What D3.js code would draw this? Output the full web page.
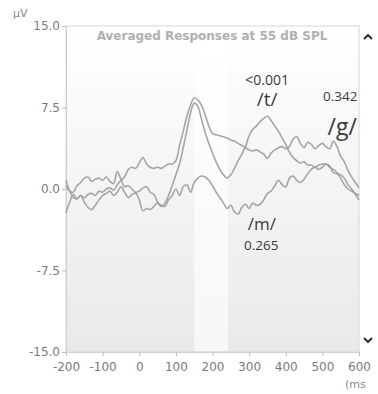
<!DOCTYPE html>
<html>
<head>
<meta charset="utf-8">
<script src="https://cdn.jsdelivr.net/npm/d3@7"></script>
<style>
  html, body { margin: 0; padding: 0; background: #fff; }
  svg { display: block; }
  text { font-family: "DejaVu Sans", sans-serif; }
</style>
</head>
<body>
<svg id="chart" width="378" height="394"></svg>
<script>
const times = d3.range(-200, 601, 10);
const seriesG = [0.8,-0.2,-0.8,-0.9,-0.6,-0.8,-0.5,-0.4,-0.6,-0.2,-0.3,0.0,0.1,-0.1,0.4,0.8,1.1,1.8,2.0,1.9,
  2.4,2.9,2.3,2.0,1.9,2.0,1.9,2.1,2.3,2.3,2.6,4.0,5.3,6.7,7.7,8.4,8.2,7.7,6.8,5.8,
  5.1,5.0,4.9,4.8,4.7,4.5,4.4,4.2,4.0,3.8,3.6,3.5,3.6,3.4,3.2,2.8,3.3,3.6,3.8,3.9,
  3.7,3.9,4.6,4.8,4.2,3.8,4.3,4.1,3.7,4.0,4.2,3.9,3.7,4.4,3.9,3.0,2.5,1.7,1.1,0.6,0.1];
const seriesT = [0.3,-0.2,-0.3,0.3,0.6,1.0,1.1,0.7,0.9,1.0,0.8,1.1,0.7,0.5,1.6,0.9,0.2,0.3,0.0,-0.3,
  -0.2,0.1,0.2,-0.3,-0.5,-1.2,-1.6,-1.3,-0.6,0.3,1.3,2.3,3.8,5.4,7.0,7.9,7.6,6.4,5.2,4.2,
  3.3,2.5,1.8,1.3,1.0,1.3,1.9,2.6,3.2,3.9,4.9,5.5,5.8,6.2,6.5,6.7,6.3,5.8,5.3,4.7,
  4.1,3.4,2.9,2.6,2.4,2.5,2.2,2.2,2.0,2.2,2.3,2.3,2.0,1.8,1.5,1.0,0.4,0.0,-0.2,-0.4,-0.6];
const seriesM = [-2.2,-1.2,-0.5,-0.9,-0.6,-1.2,-1.7,-1.9,-1.5,-1.0,-0.6,-0.4,-0.2,-0.6,-0.3,0.2,-0.3,-0.8,-0.5,-0.4,
  -1.0,-2.0,-1.8,-1.9,-1.6,-1.3,-1.5,-1.6,-1.0,-0.6,0.0,-0.6,0.2,0.4,-0.3,0.6,1.0,1.2,1.1,0.8,
  0.3,-0.3,-0.8,-1.3,-1.8,-1.5,-2.1,-2.3,-1.7,-1.4,-1.8,-1.3,-1.5,-1.4,-1.0,-0.4,-0.2,0.3,0.8,0.4,
  0.2,1.0,1.2,0.8,0.6,0.9,1.4,1.8,2.0,1.8,2.0,2.3,2.1,1.5,1.4,1.3,1.0,0.4,0.0,-0.5,-1.0];
const xTicks = [-200,-100,0,100,200,300,400,500,600];
const yTicks = [-15,-7.5,0,7.5,15];
const bandRange = [150, 243];
const title = "Averaged Responses at 55 dB SPL";
const annotations = [
  {t: 349, v: 9.6, text: "<0.001", size: 14},
  {t: 349, v: 7.6, text: "/t/", size: 19},
  {t: 549, v: 8.1, text: "0.342", size: 13.5},
  {t: 554, v: 5.0, text: "/g/", size: 23},
  {t: 335, v: -3.8, text: "/m/", size: 17},
  {t: 333, v: -5.6, text: "0.265", size: 13.5}
];

const svg = d3.select("#chart");
const x = d3.scaleLinear().domain([-200, 600]).range([66, 359]);
const y = d3.scaleLinear().domain([-15, 15]).range([352, 26]);

const defs = svg.append("defs");
const grad = defs.append("linearGradient").attr("id", "bg").attr("x1", 0).attr("y1", 0).attr("x2", 0).attr("y2", 1);
grad.append("stop").attr("offset", "0%").attr("stop-color", "#ffffff");
grad.append("stop").attr("offset", "100%").attr("stop-color", "#e9e9e9");
const grad2 = defs.append("linearGradient").attr("id", "band").attr("x1", 0).attr("y1", 0).attr("x2", 0).attr("y2", 1);
grad2.append("stop").attr("offset", "0%").attr("stop-color", "#ffffff");
grad2.append("stop").attr("offset", "100%").attr("stop-color", "#f7f7f7");

svg.append("rect").attr("x", x(-200)).attr("y", y(15)).attr("width", x(600) - x(-200)).attr("height", y(-15) - y(15))
  .attr("fill", "url(#bg)").attr("stroke", "#d6d6d6").attr("stroke-width", 1);
svg.append("rect").attr("x", x(bandRange[0])).attr("y", y(15) + 1).attr("width", x(bandRange[1]) - x(bandRange[0]))
  .attr("height", y(-15) - y(15) - 2).attr("fill", "url(#band)");

// axes
const yAxis = d3.axisLeft(y).tickValues(yTicks).tickFormat(d3.format(".1f")).tickSize(4).tickPadding(2);
const gy = svg.append("g").attr("transform", `translate(${x(-200)},0)`).call(yAxis);
const xAxis = d3.axisBottom(x).tickValues(xTicks).tickSize(4).tickPadding(6);
const gx = svg.append("g").attr("transform", `translate(0,${y(-15)})`).call(xAxis);
[gy, gx].forEach(g => {
  g.select(".domain").attr("stroke", "#cfcfcf");
  g.selectAll(".tick line").attr("stroke", "#bdbdbd");
  g.selectAll(".tick text").attr("fill", "#7a7a7a").style("font-size", "12px")
    .style("font-family", "'DejaVu Sans', sans-serif");
});
gy.selectAll(".tick text").text(d => d3.format(".1f")(d).replace("−", "-"));
gx.selectAll(".tick text").text(d => String(d));

// lines
const line = d3.line().x((d, i) => x(times[i])).y(d => y(d)).curve(d3.curveCatmullRom.alpha(0.5));
[seriesG, seriesT, seriesM].forEach(s => {
  svg.append("path").datum(s).attr("d", line).attr("fill", "none")
    .attr("stroke", "#9c9c9c").attr("stroke-width", 1.6).attr("stroke-opacity", 0.9);
});

// title
svg.append("text").attr("x", 212).attr("y", 40).attr("text-anchor", "middle")
  .attr("fill", "#b0b0b0").style("font-size", "12px").style("font-weight", "bold").text(title);

// annotations
annotations.forEach(a => {
  svg.append("text").attr("x", x(a.t)).attr("y", y(a.v)).attr("text-anchor", "middle")
    .attr("fill", "#3a3a3a").style("font-size", a.size + "px")
    .style("font-family", "'Open Sans', sans-serif").text(a.text);
});

// unit labels
svg.append("text").attr("x", 13).attr("y", 17).attr("fill", "#888").style("font-size", "11px").text("µV");
svg.append("text").attr("x", 345).attr("y", 388).attr("fill", "#888").style("font-size", "11px").text("(ms");
// chevrons
svg.append("path").attr("d", "M364,39 L368,35 L372,39").attr("fill", "none").attr("stroke", "#222").attr("stroke-width", 1.8);
svg.append("path").attr("d", "M364,338 L368,342 L372,338").attr("fill", "none").attr("stroke", "#222").attr("stroke-width", 1.8);
</script>
</body>
</html>
